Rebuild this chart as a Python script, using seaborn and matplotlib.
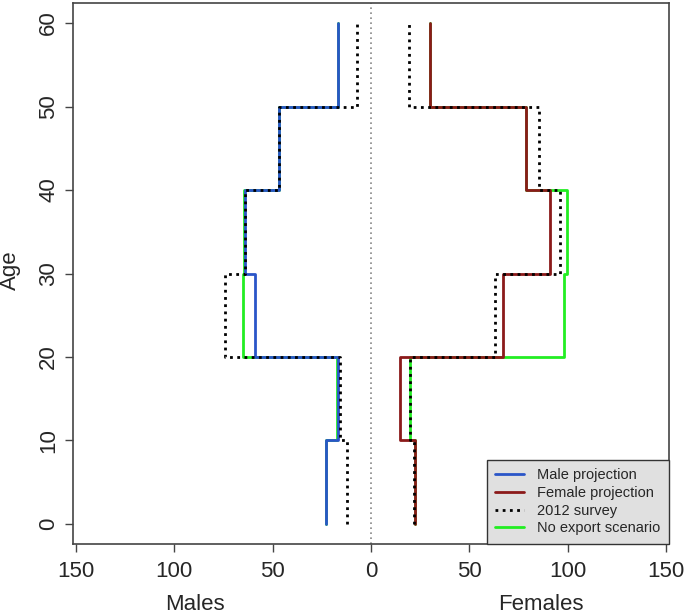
import numpy as np
import pandas as pd
import matplotlib
matplotlib.use("Agg")
import matplotlib.pyplot as plt
import seaborn as sns

sns.set_style("white")
plt.rcParams["font.family"] = ["Liberation Sans", "DejaVu Sans"]

# age class lower bounds (last point closes the top step at 60)
ages = [0, 10, 20, 30, 40, 50, 60]

male_proj = [23, 17, 59, 64, 47, 17, 17]
female_proj = [22.5, 14.5, 67, 91, 79, 30, 30]
male_survey = [12, 16, 74, 64, 47, 7, 7]
female_survey = [22, 19.6, 63, 96, 85.5, 19.5, 19.5]
male_noexport = [23, 17.3, 65, 64.5, 47, 17, 17]
female_noexport = [22.5, 20, 98, 99.5, 79, 30, 30]

x_ticks = [-150, -100, -50, 0, 50, 100, 150]
y_ticks = [0, 10, 20, 30, 40, 50, 60]

blue = "#2A55C8"
brown = "#8B1A1A"
green = "#22EE22"
dotted = (0, (1, 1.6))

fig = plt.figure(figsize=(6.85, 6.14), dpi=100)
ax = fig.add_axes([0.1066, 0.114, 0.87, 0.881])

ax.axvline(0, color="#888888", lw=1.2, ls=(0, (1, 2)), zorder=1)

def step(vals, sign, color, ls="-", label=None, z=2):
    df = pd.DataFrame({"x": np.array(vals) * sign, "y": ages})
    sns.lineplot(data=df, x="x", y="y", ax=ax, sort=False, estimator=None,
                 drawstyle="steps-pre", color=color, lw=2, ls=ls,
                 label=label, zorder=z)

step(male_noexport, -1, green, label="No export scenario", z=2)
step(female_noexport, 1, green, z=2)
step(male_proj, -1, blue, label="Male projection", z=3)
step(female_proj, 1, brown, label="Female projection", z=3)
step(male_survey, -1, "black", ls=dotted, label="2012 survey", z=4)
step(female_survey, 1, "black", ls=dotted, z=4)

ax.set_xlim(-151.5, 151.5)
ax.set_ylim(-2.4, 62.4)
ax.set_xticks(x_ticks)
ax.set_xticklabels([str(abs(t)) for t in x_ticks])
ax.set_yticks(y_ticks)
ax.set_yticklabels([str(t) for t in y_ticks], rotation=90, va="center")
ax.set_xlabel("")
ax.set_ylabel("")
ax.tick_params(axis="both", direction="out", length=6, width=1,
               color="#444444", labelsize=16, left=True, bottom=True)
ax.tick_params(axis="x", pad=6)
ax.tick_params(axis="y", pad=4)
for s in ax.spines.values():
    s.set_color("#444444")
    s.set_linewidth(1.2)

h, l = ax.get_legend_handles_labels()
order = ["Male projection", "Female projection", "2012 survey", "No export scenario"]
hd = dict(zip(l, h))
leg = ax.legend([hd[k] for k in order], order, loc="lower right",
                borderaxespad=0, fancybox=False, framealpha=1,
                facecolor="#E0E0E0", edgecolor="#333333", fontsize=10.5,
                handlelength=1.95, labelspacing=0.25, borderpad=0.6,
                handletextpad=0.9)
leg.get_frame().set_linewidth(1)

fig.text(0.285, 0.016, "Males", ha="center", va="center", fontsize=16)
fig.text(0.79, 0.016, "Females", ha="center", va="center", fontsize=16)
fig.text(0.0146, 0.56, "Age", ha="center", va="center", rotation=90, fontsize=16)

fig.savefig("out.png", dpi=100)
